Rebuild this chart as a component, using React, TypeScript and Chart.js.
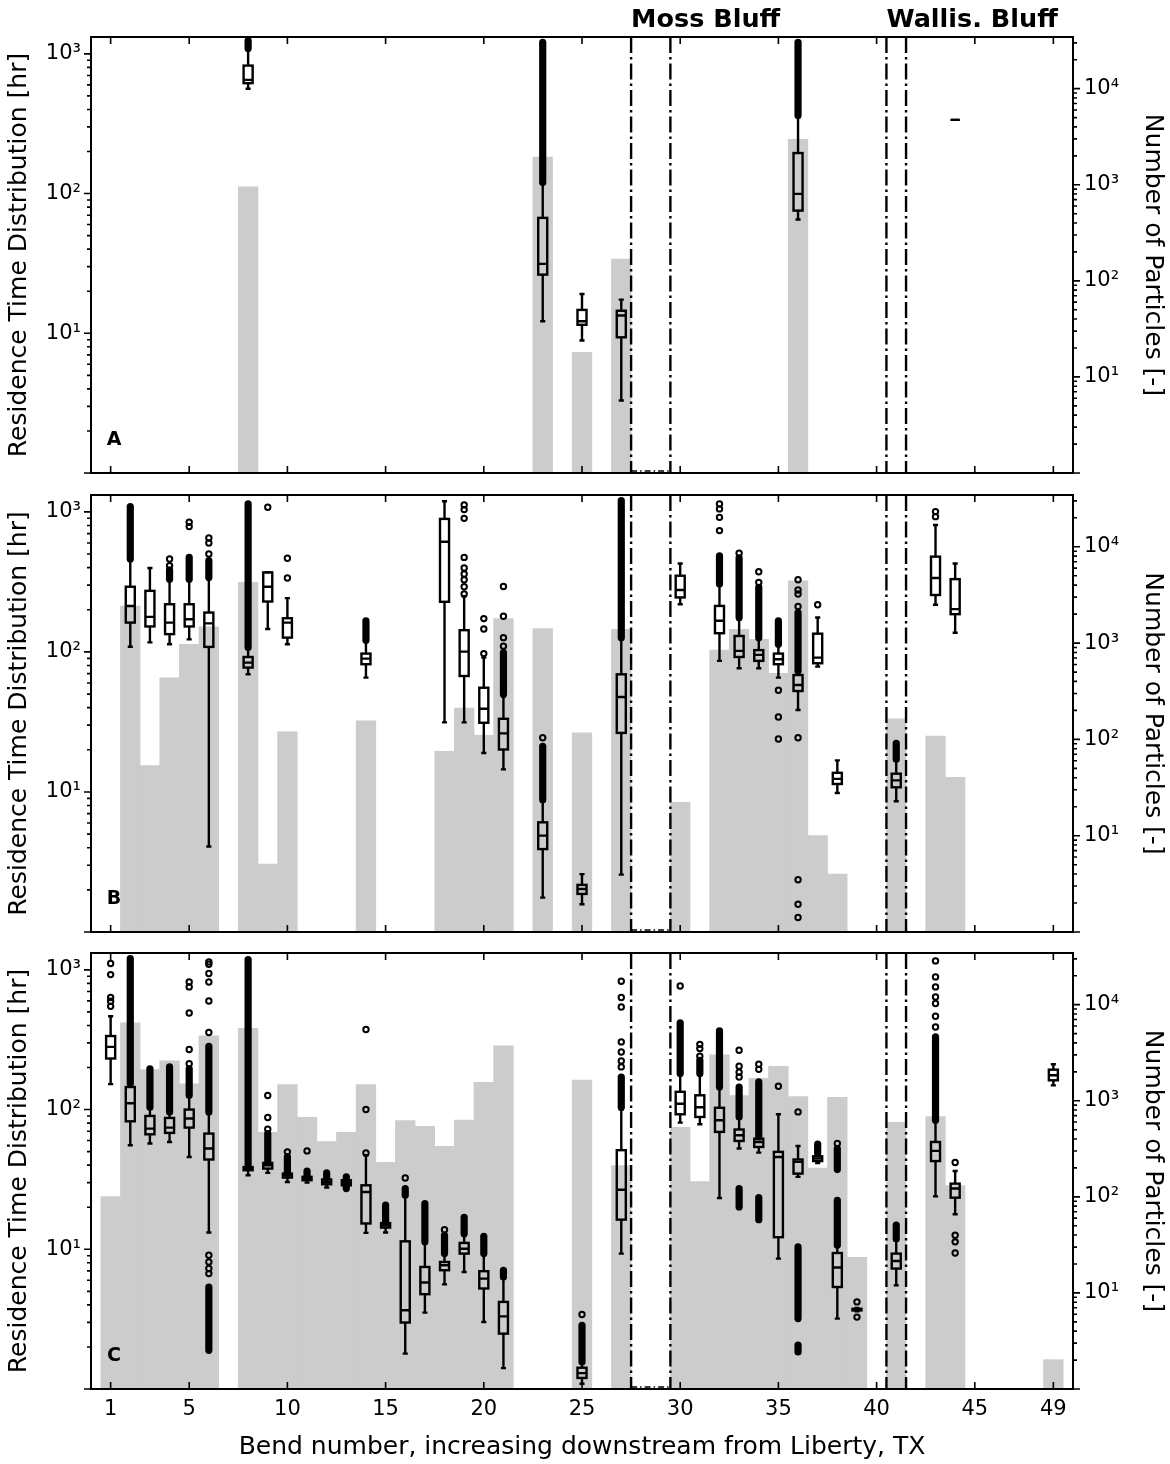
import React, { useEffect, useRef } from "react";
import { Chart, registerables } from "chart.js";

Chart.register(...registerables);
Chart.defaults.font.family = "'DejaVu Sans', sans-serif";
Chart.defaults.color = "#000";

const xTickLabels = [1, 5, 10, 15, 20, 25, 30, 35, 40, 45, 49];
const riverLines = [27.5, 29.5, 40.5, 41.5];
const stationNames = ["Moss Bluff", "Wallis. Bluff"];
const stationBends = [27.5, 40.5];

// [bend, number of particles]
const barsA = [[8, 950], [23, 1945], [25, 18], [27, 168], [36, 2970]];
// [bend, whisker low, q1, median, q3, whisker high]
const boxesA = [
  [8, 563, 617, 651, 824, 1080],
  [23, 12.2, 26.3, 31.4, 67, 118],
  [25, 8.87, 11.5, 12.2, 14.7, 19.1],
  [27, 3.3, 9.36, 13.4, 14.5, 17.4],
  [36, 65.2, 75.5, 99.5, 195, 355],
  [44, 337, 337, 337, 337, 337],
];
// [bend, from, to] : stacks of fliers too dense to tell apart
const denseA = [[8, 1090, 1245], [23, 120, 1211], [36, 362, 1211]];
// [bend, value]
const fliersA: number[][] = [];

const barsB = [
  [2, 2430], [3, 53.5], [4, 437], [5, 972], [6, 1473], [8, 4270], [9, 5.07], [10, 120],
  [14, 156], [18, 75.4], [19, 211], [20, 110], [21, 1800], [23, 1416], [25, 117], [27, 1393],
  [30, 22.2], [32, 847], [33, 1393], [34, 1097], [35, 485], [36, 4430], [37, 10], [38, 4.0],
  [41, 164], [43, 108], [44, 40.4],
];
const boxesB = [
  [2, 109, 162, 213, 292, 455],
  [3, 117, 152, 178, 273, 397],
  [4, 113.5, 134, 162, 219, 325],
  [5, 123, 152, 171, 219, 325],
  [6, 4.08, 108.6, 160, 191, 335],
  [8, 69.2, 77.3, 83.8, 92, 106],
  [9, 145.6, 229, 292, 370, 370],
  [10, 113.5, 126.5, 162, 174, 242],
  [14, 65.5, 81.7, 89.6, 97.3, 118],
  [18, 31.4, 228, 612, 891, 1191],
  [19, 31.4, 67.3, 100.5, 143, 250],
  [20, 19, 31.2, 39.3, 55.5, 91],
  [21, 14.5, 20.1, 26.2, 33.3, 48],
  [23, 1.76, 3.91, 4.88, 6.07, 8.5],
  [25, 1.58, 1.87, 2.03, 2.17, 2.59],
  [27, 2.57, 26.4, 47.7, 69.2, 125],
  [30, 219, 245, 277, 350, 428],
  [32, 86.3, 136, 167, 213, 300],
  [33, 76.4, 92, 101.7, 130, 170],
  [34, 76.4, 86.3, 95.3, 103, 124],
  [35, 65.5, 81.7, 88.7, 97.3, 112],
  [36, 38.5, 52.6, 58.1, 68.4, 72],
  [37, 78.5, 83, 91, 135, 176],
  [38, 9.84, 11.4, 12.4, 13.7, 16.8],
  [41, 8.58, 10.8, 12.1, 13.5, 16.8],
  [43, 217, 255, 337, 479, 807],
  [44, 137, 186, 202, 331, 428],
];
const denseB = [
  [2, 461, 1092], [4, 331, 385], [5, 331, 473], [6, 340, 448], [8, 107.5, 1140],
  [14, 121, 167], [21, 49.8, 98.9], [23, 8.83, 21.2], [27, 126.5, 1205], [32, 305, 486],
  [33, 176, 469], [34, 126.5, 289], [35, 113.5, 167], [36, 73.1, 191], [41, 17.1, 22.2],
];
const fliersB = [
  [4, 461], [4, 413], [5, 843], [5, 785], [6, 651], [6, 600], [6, 500], [9, 1080],
  [10, 466], [10, 337],
  [19, 1122], [19, 1038], [19, 899], [19, 473], [19, 397], [19, 360], [19, 328], [19, 292], [19, 259],
  [20, 173], [20, 145.6], [20, 97.3], [21, 293], [21, 180], [21, 126.5], [21, 110], [23, 24.4],
  [32, 1140], [32, 1050], [32, 914], [32, 735], [33, 506], [34, 374], [34, 313],
  [35, 53.2], [35, 34.3], [35, 23.9],
  [36, 328], [36, 277], [36, 259], [36, 211], [36, 24.4], [36, 2.36], [36, 1.58], [36, 1.27],
  [37, 217], [43, 1005], [43, 925],
];

const barsC = [
  [1, 100.5], [2, 6460], [3, 2110], [4, 2610], [5, 1496], [6, 4750], [8, 5680], [9, 470],
  [10, 1473], [11, 673], [12, 375], [13, 470], [14, 1473], [15, 229], [16, 621], [17, 543],
  [18, 336], [19, 631], [20, 1556], [21, 3740], [25, 1644], [27, 211], [30, 530], [31, 144],
  [32, 3000], [33, 1130], [34, 1714], [35, 2285], [36, 1105], [37, 199], [38, 1087], [39, 23.5],
  [41, 597], [43, 684], [44, 131], [49, 2.02],
];
const boxesC = [
  [1, 152, 232, 281, 336, 466],
  [2, 55.5, 82.4, 111, 145, 150],
  [3, 57.1, 66.5, 73.1, 90, 102],
  [4, 58.6, 68.1, 74.3, 87.1, 94],
  [5, 45.8, 74.3, 86.3, 100, 124],
  [6, 13.2, 43.9, 52.6, 67.3, 93],
  [8, 33.9, 36.8, 37.8, 38.8, 40],
  [9, 35.2, 37.8, 39.9, 41.5, 41.8],
  [10, 30.3, 32.6, 33.9, 34.8, 34.8],
  [11, 30.0, 31.2, 32.1, 33, 33.5],
  [12, 27.7, 29.2, 30.3, 31.6, 32.5],
  [13, 27.2, 28.7, 30, 31.2, 32],
  [14, 13.1, 15.3, 25.7, 28.7, 47.1],
  [15, 13.2, 14.3, 14.8, 15.4, 15.6],
  [16, 1.79, 2.99, 3.66, 11.4, 24],
  [17, 3.52, 4.77, 5.78, 7.47, 11],
  [18, 5.61, 7.08, 7.68, 8.11, 9.2],
  [19, 6.88, 9.31, 10.1, 11.1, 12.7],
  [20, 3.02, 5.24, 6.17, 6.97, 9.2],
  [21, 1.41, 2.49, 3.31, 4.2, 6.2],
  [25, 1.09, 1.2, 1.3, 1.42, 1.55],
  [27, 9.31, 16.3, 26.7, 51.2, 100],
  [30, 80.7, 92.5, 110, 134, 178],
  [31, 78.5, 88.5, 104, 126.5, 178],
  [32, 23.3, 69.2, 83.8, 103, 143],
  [33, 52.6, 59.6, 65.5, 72, 87],
  [34, 49.2, 54, 58.6, 61.9, 63],
  [35, 8.58, 12.2, 45.8, 49.8, 92.5],
  [36, 33, 34.8, 42.2, 43.9, 54.8],
  [37, 41.5, 42.8, 44.6, 46.3, 48],
  [38, 3.19, 5.37, 7.4, 9.4, 10.5],
  [39, 3.6, 3.65, 3.7, 3.75, 3.8],
  [41, 5.52, 7.28, 8.25, 9.31, 11.5],
  [43, 23.9, 42.8, 50.6, 58.6, 82],
  [44, 17.8, 23.4, 27.2, 29.5, 36.3],
  [49, 149, 162, 176, 193, 211],
];
const denseC = [
  [2, 153, 1205], [3, 104, 196], [4, 96.2, 202], [5, 126.5, 196], [6, 96.2, 284], [6, 1.89, 5.37],
  [8, 40.6, 1185], [9, 42.2, 67.3], [10, 34.8, 45.8], [11, 33.9, 36.3], [12, 32.6, 35.2],
  [13, 27.2, 33], [15, 15.7, 20.7], [16, 24.4, 27.2], [17, 11.3, 21.2], [18, 9.31, 12.6],
  [19, 12.9, 16.9], [20, 9.31, 12.4], [21, 6.34, 7.08], [25, 1.56, 2.86], [27, 104, 171],
  [30, 181, 417], [31, 181, 225], [32, 145, 366], [33, 88.5, 145], [33, 20.1, 27.2],
  [34, 63.7, 158], [34, 16.3, 23.4], [36, 3.19, 10.4], [36, 1.84, 2.06], [37, 48.4, 56.5],
  [38, 37.2, 52.6], [38, 10.7, 22.4], [41, 11.9, 14.9], [43, 83.8, 331],
];
const fliersC = [
  [1, 1109], [1, 925], [1, 634], [1, 596], [1, 548],
  [5, 818], [5, 755], [5, 491], [5, 269], [5, 213],
  [6, 1140], [6, 1097], [6, 942], [6, 818], [6, 599], [6, 356], [6, 9.06], [6, 8.11], [6, 7.28], [6, 6.7],
  [9, 126], [9, 87.7], [9, 72.3], [10, 49.8], [11, 50.6], [14, 374], [14, 100], [14, 48.9],
  [16, 32.4], [18, 13.8], [25, 3.41],
  [27, 828], [27, 634], [27, 542], [27, 305], [27, 258], [27, 223], [27, 202],
  [30, 767], [31, 293], [31, 273], [31, 241], [33, 266], [33, 204], [33, 185], [33, 171],
  [34, 211], [34, 194], [35, 147], [36, 96.2], [38, 57.1], [39, 4.2], [39, 3.27],
  [43, 1159], [43, 890], [43, 755], [43, 640], [43, 574], [43, 466], [43, 390],
  [44, 41.8], [44, 12.6], [44, 11.3], [44, 9.4],
];

const GRAY = "#cccccc";
const SUP: Record<string, string> = { "1": "\u00b9", "2": "\u00b2", "3": "\u00b3", "4": "\u2074" };

const powLabel = (v: number) => {
  const e = Math.round(Math.log10(v));
  if (e > 0 && Math.abs(v - Math.pow(10, e)) < 1e-6 * v) return "10" + SUP[String(e)];
  return "";
};

type PanelProps = {
  top: number;
  height: number;
  padTop: number;
  xHeight: number;
  letter: string;
  bars: number[][];
  boxes: number[][];
  dense: number[][];
  fliers: number[][];
  showX: boolean;
  stations: boolean;
};

const Panel: React.FC<PanelProps> = (p) => {
  const chartRef = useRef<HTMLCanvasElement | null>(null);

  useEffect(() => {
    if (!chartRef.current) return;

    const intTicks: number[] = [];
    for (let i = 0; i <= 50; i++) intTicks.push(i);

    const decor = {
      id: "decor",
      afterDatasetsDraw(chart: any) {
        const { ctx, chartArea: a } = chart;
        const x = chart.scales.x;
        const y = chart.scales.y;
        const py = (v: number) => y.getPixelForValue(v);
        ctx.save();
        ctx.beginPath();
        ctx.rect(a.left, a.top, a.right - a.left, a.bottom - a.top);
        ctx.clip();
        ctx.strokeStyle = "#000";

        // boxes and whiskers
        ctx.lineWidth = 2.4;
        for (const [b, lo, q1, md, q3, hi] of p.boxes) {
          const cx = x.getPixelForValue(b);
          const hw = x.getPixelForValue(b + 0.23) - cx;
          const cw = x.getPixelForValue(b + 0.13) - cx;
          ctx.beginPath();
          ctx.moveTo(cx, py(q3));
          ctx.lineTo(cx, py(hi));
          ctx.moveTo(cx, py(q1));
          ctx.lineTo(cx, py(lo));
          ctx.moveTo(cx - cw, py(hi));
          ctx.lineTo(cx + cw, py(hi));
          ctx.moveTo(cx - cw, py(lo));
          ctx.lineTo(cx + cw, py(lo));
          ctx.moveTo(cx - hw, py(md));
          ctx.lineTo(cx + hw, py(md));
          ctx.stroke();
          ctx.strokeRect(cx - hw, py(q3), 2 * hw, py(q1) - py(q3));
        }

        // dense flier stacks
        ctx.lineWidth = 7.2;
        ctx.lineCap = "round";
        for (const [b, from, to] of p.dense) {
          const cx = x.getPixelForValue(b);
          ctx.beginPath();
          ctx.moveTo(cx, py(from));
          ctx.lineTo(cx, py(to));
          ctx.stroke();
        }

        // river reach boundaries
        ctx.lineCap = "butt";
        ctx.lineWidth = 2.4;
        ctx.setLineDash([16, 4, 2.5, 4]);
        for (const v of riverLines) {
          const px = x.getPixelForValue(v);
          ctx.beginPath();
          ctx.moveTo(px, a.top);
          ctx.lineTo(px, a.bottom);
          ctx.stroke();
        }
        ctx.lineWidth = 1.5;
        ctx.setLineDash([6, 3, 1.5, 3]);
        ctx.beginPath();
        ctx.moveTo(x.getPixelForValue(riverLines[0]), a.bottom - 2);
        ctx.lineTo(x.getPixelForValue(riverLines[1]), a.bottom - 2);
        ctx.stroke();
        ctx.restore();
      },
      afterDraw(chart: any) {
        const { ctx, chartArea: a } = chart;
        const x = chart.scales.x;
        ctx.save();
        ctx.strokeStyle = "#000";
        ctx.lineWidth = 1.6;
        ctx.beginPath();
        for (const v of xTickLabels) {
          const px = x.getPixelForValue(v);
          ctx.moveTo(px, a.bottom);
          ctx.lineTo(px, a.bottom - 7);
          ctx.moveTo(px, a.top);
          ctx.lineTo(px, a.top + 7);
        }
        for (const id of ["y", "y2"]) {
          const s = chart.scales[id];
          const x0 = id === "y" ? a.left : a.right;
          const dir = id === "y" ? -1 : 1;
          for (const t of s.ticks) {
            const v = t.value;
            const e = Math.floor(Math.log10(v) + 1e-9);
            const m = v / Math.pow(10, e);
            if (Math.abs(m - Math.round(m)) > 1e-6) continue;
            const yy = s.getPixelForValue(v);
            if (yy < a.top - 0.5 || yy > a.bottom + 0.5) continue;
            const len = Math.round(m) === 1 ? 7 : 4;
            ctx.moveTo(x0, yy);
            ctx.lineTo(x0 + dir * len, yy);
          }
        }
        ctx.stroke();

        ctx.lineWidth = 2;
        ctx.strokeRect(a.left, a.top, a.right - a.left, a.bottom - a.top);

        ctx.fillStyle = "#000";
        ctx.font = "bold 19px 'DejaVu Sans'";
        ctx.textAlign = "center";
        ctx.textBaseline = "middle";
        ctx.fillText(p.letter, a.left + 23, a.bottom - 33);

        if (p.stations) {
          ctx.font = "bold 25.5px 'DejaVu Sans'";
          ctx.textAlign = "left";
          ctx.textBaseline = "alphabetic";
          stationNames.forEach((name, i) => {
            ctx.fillText(name, x.getPixelForValue(stationBends[i]), a.top - 10);
          });
        }
        ctx.restore();
      },
    };

    const chart = new Chart(chartRef.current, {
      type: "bar",
      data: {
        datasets: [
          {
            type: "scatter",
            data: p.fliers.map(([b, v]) => ({ x: b, y: v })),
            yAxisID: "y",
            pointRadius: 2.7,
            pointBorderWidth: 2,
            pointBackgroundColor: "rgba(0,0,0,0)",
            pointBorderColor: "#000",
            showLine: false,
          } as any,
          {
            type: "bar",
            data: p.bars.map(([b, n]) => ({ x: b, y: n })),
            yAxisID: "y2",
            backgroundColor: GRAY,
            borderWidth: 0,
            barPercentage: 1,
            categoryPercentage: 1,
          } as any,
        ],
      },
      options: {
        animation: false,
        responsive: true,
        maintainAspectRatio: false,
        events: [],
        layout: { padding: { top: p.padTop, left: 0, right: 0, bottom: 0 } },
        plugins: { legend: { display: false }, tooltip: { enabled: false } },
        scales: {
          x: {
            type: "linear",
            min: 0,
            max: 50,
            offset: false,
            afterBuildTicks: (s: any) => {
              s.ticks = intTicks.map((v) => ({ value: v }));
            },
            afterFit: (s: any) => {
              s.height = p.xHeight;
              s.paddingLeft = 0;
              s.paddingRight = 0;
            },
            ticks: {
              display: p.showX,
              autoSkip: false,
              maxRotation: 0,
              padding: 8,
              font: { size: 21 },
              callback: (v: any) => (xTickLabels.includes(Number(v)) ? String(v) : ""),
            },
            grid: { display: false, drawTicks: false },
            border: { display: false },
            title: {
              display: p.showX,
              text: "Bend number, increasing downstream from Liberty, TX",
              font: { size: 25 },
              padding: { top: 0, bottom: 2 },
            },
          },
          y: {
            type: "logarithmic",
            position: "left",
            min: 1,
            max: 1320,
            beginAtZero: false,
            afterFit: (s: any) => {
              s.width = 91;
              s.paddingTop = 0;
              s.paddingBottom = 0;
            },
            ticks: {
              autoSkip: false,
              padding: 3,
              font: { size: 21 },
              callback: (v: any) => powLabel(Number(v)),
            },
            grid: { display: false, drawTicks: true, tickLength: 7 },
            border: { display: false },
            title: {
              display: true,
              text: "Residence Time Distribution [hr]",
              font: { size: 25 },
              padding: { top: 4, bottom: 0 },
            },
          },
          y2: {
            type: "logarithmic",
            position: "right",
            min: 1,
            max: 34500,
            beginAtZero: false,
            afterFit: (s: any) => {
              s.width = 97;
              s.paddingTop = 0;
              s.paddingBottom = 0;
            },
            ticks: {
              autoSkip: false,
              padding: 4,
              font: { size: 21 },
              callback: (v: any) => powLabel(Number(v)),
            },
            grid: { display: false, drawTicks: true, tickLength: 7 },
            border: { display: false },
            title: {
              display: true,
              text: "Number of Particles [-]",
              font: { size: 25 },
              padding: { top: 3, bottom: 0 },
            },
          },
        },
      } as any,
      plugins: [decor],
    });

    return () => {
      chart.destroy();
    };
  }, []);

  return (
    <div style={{ position: "absolute", left: 0, top: p.top, width: 1170, height: p.height }}>
      <canvas ref={chartRef} />
    </div>
  );
};

const App: React.FC = () => {
  return (
    <div style={{ position: "absolute", left: 0, top: 0, width: 1170, height: 1464, background: "#fff" }}>
      <Panel top={0} height={484} padTop={37} xHeight={11} letter="A" bars={barsA} boxes={boxesA}
        dense={denseA} fliers={fliersA} showX={false} stations={true} />
      <Panel top={484} height={458} padTop={11} xHeight={10} letter="B" bars={barsB} boxes={boxesB}
        dense={denseB} fliers={fliersB} showX={false} stations={false} />
      <Panel top={942} height={522} padTop={11} xHeight={75} letter="C" bars={barsC} boxes={boxesC}
        dense={denseC} fliers={fliersC} showX={true} stations={false} />
    </div>
  );
};

export default App;
